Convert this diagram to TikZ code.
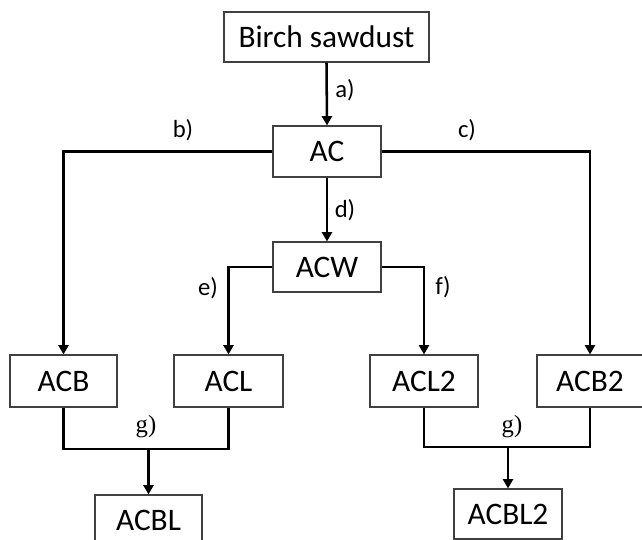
\documentclass[tikz,border=0pt]{standalone}
\usepackage{fontspec}
\setmainfont{Carlito}
\newfontfamily\serifg{Liberation Serif}
\usetikzlibrary{arrows.meta}
\begin{document}
\begin{tikzpicture}[x=0.75pt,y=-0.75pt,
  box/.style={draw=black!75,line width=0.8pt,minimum width=80.25pt,minimum height=38.25pt,inner sep=0pt,font=\fontsize{23.5}{26}\selectfont},
  conn/.style={line width=1.9pt,draw=black},
  arr/.style={conn,-{Triangle[width=7.5pt,length=7pt]}},
  lab/.style={font=\fontsize{18.5}{20}\selectfont,inner sep=0pt},
  glab/.style={font=\serifg\fontsize{18.5}{20}\selectfont,inner sep=0pt}]
\clip (0,0) rectangle (642,539);
\fill[white] (0,0) rectangle (642,539);
\node[box,minimum width=153.75pt,minimum height=37.5pt] (birch) at (326.5,37) {Birch sawdust};
\node[box,minimum width=81pt] (AC) at (327,151.5) {AC};
\node[box,minimum width=81pt,minimum height=37.5pt] (ACW) at (327,267) {ACW};
\node[box,minimum height=39pt] (ACB) at (63.5,381) {ACB};
\node[box,minimum width=81.75pt,minimum height=39pt] (ACL) at (228.5,381) {ACL};
\node[box,minimum width=81pt,minimum height=39pt] (ACL2) at (424,381) {ACL2};
\node[box,minimum width=79.5pt,minimum height=39pt] (ACB2) at (590,381) {ACB2};
\node[box,minimum height=37.5pt] (ACBL) at (148.5,520) {ACBL};
\node[box,minimum width=81pt,minimum height=37.5pt] (ACBL2) at (508,514) {ACBL2};
\coordinate (jl) at (148.5,449);
\coordinate (jr) at (508,447);
\draw[arr] (birch.south) -- (AC.north);
\draw[arr] (AC.south) -- (ACW.north);
\draw[arr] (AC.west) -| (ACB.north);
\draw[arr] (AC.east) -| (ACB2.north);
\draw[arr] (ACW.west) -| (ACL.north);
\draw[arr] (ACW.east) -| (ACL2.north);
\draw[conn] (ACB.south) |- (jl) -| (ACL.south);
\draw[arr] (jl) -- (ACBL.north);
\draw[conn] (ACL2.south) |- (jr) -| (ACB2.south);
\draw[arr] (jr) -- (ACBL2.north);
\node[lab] (la) at (345,90) {a)};
\node[lab] (ld) at (345,210) {d)};
\node[lab] (lb) at (183,130) {b)};
\node[lab] (lc) at (467,130) {c)};
\node[lab] (le) at (208,288) {e)};
\node[lab] (lf) at (443,287) {f)};
\node[glab] (lg1) at (146,427) {g)};
\node[glab] (lg2) at (512,427) {g)};
\end{tikzpicture}
\end{document}
